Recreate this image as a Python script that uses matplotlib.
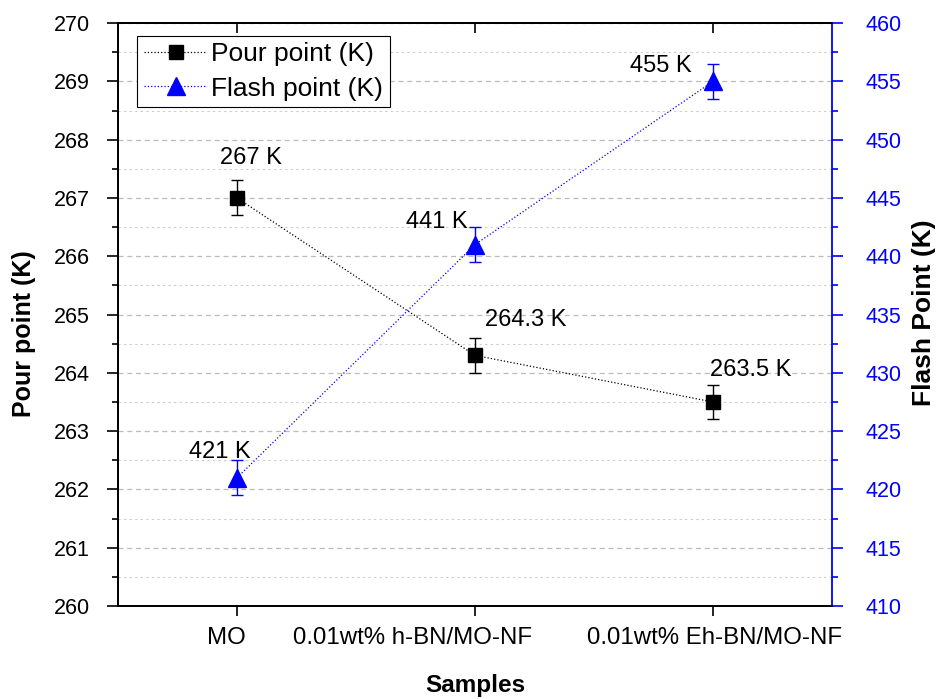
import matplotlib
matplotlib.use("Agg")
import matplotlib.pyplot as plt
from matplotlib.lines import Line2D
from matplotlib.ticker import MultipleLocator

plt.rcParams['font.family'] = ['Liberation Sans', 'DejaVu Sans']

samples = ["MO", "0.01wt% h-BN/MO-NF", "0.01wt% Eh-BN/MO-NF"]
pour_point = [267.0, 264.3, 263.5]
pour_err = [0.3, 0.3, 0.3]
flash_point = [421, 441, 455]
flash_err = [1.5, 1.5, 1.5]
pour_labels = ["267 K", "264.3 K", "263.5 K"]
flash_labels = ["421 K", "441 K", "455 K"]

x = list(range(len(samples)))

fig = plt.figure(figsize=(9.38, 6.99), dpi=100)
ax = fig.add_axes([0.1258, 0.133, 0.7612, 0.834])
ax2 = ax.twinx()

# pour point on the left axis
ax.errorbar(x, pour_point, yerr=pour_err, color='black', ls=':', lw=0.9,
            marker='s', ms=9.5, capsize=4.5, elinewidth=1, capthick=1, zorder=3)
# flash point on the right axis
ax2.errorbar(x, flash_point, yerr=flash_err, color='blue', ls=':', lw=0.9,
             marker='^', ms=13, capsize=4.5, elinewidth=1, capthick=1, zorder=3)

ax.set_xlim(-0.5, 2.5)
ax.set_ylim(260, 270)
ax2.set_ylim(410, 460)

ax.set_xticks(x)
ax.set_xticklabels([])
# category names, nudged off their ticks the way the original was typeset
name_shift = [-0.046, -0.261, 0.008]
for xi, name, dx in zip(x, samples, name_shift):
    ax.text(xi + dx, -0.036, name, transform=ax.get_xaxis_transform(),
            fontsize=17.3, ha='center', va='top')

ax.yaxis.set_major_locator(MultipleLocator(1))
ax.yaxis.set_minor_locator(MultipleLocator(0.5))
ax2.yaxis.set_major_locator(MultipleLocator(5))
ax2.yaxis.set_minor_locator(MultipleLocator(2.5))

ax.grid(True, which='major', axis='y', color='#bbbbbb', ls=(0, (4, 3)), lw=0.9)
ax.grid(True, which='minor', axis='y', color='#cccccc', ls=(0, (2, 3)), lw=0.8)
ax.set_axisbelow(True)

ax.tick_params(axis='y', which='major', direction='out', length=8, width=1.2,
               labelsize=15.5, pad=12)
ax.tick_params(axis='y', which='minor', direction='out', length=4.5, width=1.2)
ax.tick_params(axis='x', which='major', direction='out', length=7, width=1.2)
ax2.tick_params(axis='y', which='major', direction='out', length=8, width=1.2,
                colors='blue', labelsize=15.5, pad=16)
ax2.tick_params(axis='y', which='minor', direction='out', length=4.5, width=1.2,
                colors='blue')

# short inward ticks on the top edge
top = ax.secondary_xaxis('top')
top.set_xticks(x)
top.tick_params(direction='in', length=7, width=1.2, labeltop=False)
top.spines['top'].set_linewidth(1.3)

for s in ['left', 'bottom', 'top']:
    ax.spines[s].set_linewidth(1.3)
    ax2.spines[s].set_linewidth(1.3)
ax2.spines['right'].set_color('blue')
ax2.spines['right'].set_linewidth(1.3)
ax.spines['right'].set_visible(False)

ax.set_xlabel('Samples', fontsize=17.5, fontweight='bold')
ax.xaxis.set_label_coords(0.5, -0.117)
ax.set_ylabel('Pour point (K)', fontsize=18, fontweight='bold')
ax.yaxis.set_label_coords(-0.115, 0.467)
ax2.set_ylabel('Flash Point (K)', fontsize=19, fontweight='bold')
ax2.yaxis.set_label_coords(1.112, 0.503)

# value annotations
pour_off = [(-0.07, 0.68), (0.042, 0.61), (-0.013, 0.55)]
for xi, yi, t, (dx, dy) in zip(x, pour_point, pour_labels, pour_off):
    ax.text(xi + dx, yi + dy, t, fontsize=17, ha='left', va='center')
flash_off = [(-0.2, 2.2), (-0.29, 1.9), (-0.349, 1.3)]
for xi, yi, t, (dx, dy) in zip(x, flash_point, flash_labels, flash_off):
    ax2.text(xi + dx, yi + dy, t, fontsize=17, ha='left', va='center')

handles = [
    Line2D([], [], color='black', ls=':', lw=0.9, marker='s', ms=9.5),
    Line2D([], [], color='blue', ls=':', lw=0.9, marker='^', ms=13),
]
leg = ax2.legend(handles, ['Pour point (K)', 'Flash point (K)'], loc='upper left',
                 bbox_to_anchor=(0.027, 0.978), fontsize=19, fancybox=False,
                 framealpha=1, edgecolor='black', handlelength=2.4,
                 borderpad=0.25, labelspacing=0.38, handletextpad=0.15,
                 borderaxespad=0)
leg.get_frame().set_linewidth(0.8)

fig.savefig('out.png', dpi=100)
